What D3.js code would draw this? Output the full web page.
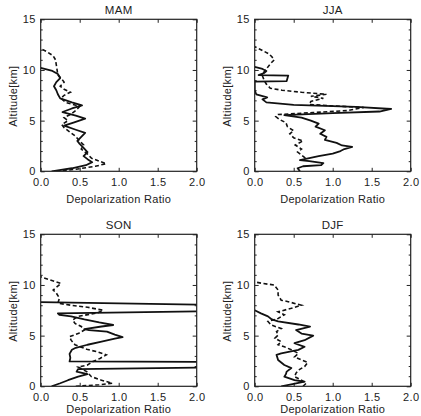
<!DOCTYPE html>
<html><head><meta charset="utf-8">
<script src="https://cdn.jsdelivr.net/npm/d3@7"></script>
<style>
body{margin:0;background:#fff;}
svg{display:block;}
text{font-family:"Liberation Sans",Arial,Helvetica,sans-serif;fill:#222;}
</style></head>
<body>
<svg id="chart" width="421" height="416"></svg>
<script>
// ---------------- DATA ----------------
const seasons = ["MAM", "JJA", "SON", "DJF"];
const xTickValues = [0, 0.5, 1.0, 1.5, 2.0];
const yTickValues = [0, 5, 10, 15];
const yMinorValues = [1,2,3,4,6,7,8,9,11,12,13,14];
const xLabel = "Depolarization Ratio";
const yLabel = "Altitude[km]";

// MAM
const mamSolidAlt   = [0,0.3,0.6,0.9,1.2,1.5,1.9,2.3,2.7,3.0,3.4,3.8,4.1,4.5,4.8,5.2,5.5,5.85,6.2,6.5,6.8,7.2,7.6,8.0,8.4,8.8,9.2,9.6,9.9,10.1,10.2];
const mamSolidRatio = [0.14,0.4,0.58,0.66,0.6,0.55,0.6,0.55,0.5,0.47,0.52,0.57,0.45,0.3,0.42,0.57,0.45,0.28,0.4,0.53,0.4,0.25,0.22,0.2,0.17,0.2,0.25,0.22,0.15,0.05,0];
const mamDashAlt    = [0,0.2,0.5,0.75,1.0,1.3,1.7,2.2,2.6,3.0,3.5,3.9,4.3,4.6,5.0,5.3,5.6,6.0,6.4,6.8,7.2,7.5,7.8,8.1,8.4,8.8,9.1,9.5,10.0,10.5,11.0,11.4,11.8,12.1];
const mamDashRatio  = [0.2,0.45,0.7,0.84,0.75,0.65,0.6,0.52,0.55,0.5,0.44,0.37,0.3,0.27,0.35,0.3,0.38,0.45,0.5,0.32,0.26,0.3,0.38,0.3,0.25,0.3,0.27,0.22,0.21,0.2,0.19,0.16,0.08,0];

// JJA
const jjaSolidAlt   = [0,0.3,0.5,0.6,0.8,1.0,1.1,1.3,1.5,1.75,2.0,2.2,2.4,2.55,2.8,3.1,3.4,3.7,4.05,4.4,4.7,5.0,5.3,5.55,5.75,5.9,6.15,6.35,6.55,6.8,7.1,7.3,7.6,8.0,8.85,8.9,9.45,9.5,9.7,9.9,10.1,10.3];
const jjaSolidRatio = [0.58,0.55,0.62,0.85,0.88,0.7,0.58,0.7,0.82,1.0,1.1,1.15,1.25,1.12,1.05,0.9,0.92,0.84,0.9,0.78,0.82,0.72,0.6,0.38,1.0,1.6,1.75,1.3,0.5,0.15,0.1,0.16,0.02,0,0,0.41,0.43,0.05,0.12,0.15,0.1,0];
const jjaDashAlt    = [1.3,1.6,1.9,2.2,2.6,3.0,3.3,3.7,4.0,4.4,4.8,5.1,5.4,5.6,5.8,6.0,6.3,6.45,6.6,6.9,7.2,7.4,7.6,7.8,8.0,8.2,8.6,9.0,9.4,9.8,10.2,10.6,11.0,11.3,11.6,12.0,12.3];
const jjaDashRatio  = [0.65,0.6,0.55,0.6,0.52,0.62,0.5,0.45,0.5,0.42,0.4,0.32,0.27,0.3,0.75,1.2,1.4,1.0,0.7,0.72,0.88,0.72,0.92,0.6,0.35,0.2,0.15,0.12,0.1,0.12,0.16,0.2,0.25,0.22,0.18,0.08,0];

// SON
const sonSolidAlt   = [0,0.3,0.6,0.95,1.2,1.45,1.7,1.85,2.4,2.45,2.8,3.2,3.6,3.8,4.1,4.4,4.7,4.85,5.1,5.4,5.55,5.65,5.9,6.05,6.3,6.6,6.9,7.05,7.2,7.4,8.05,8.3];
const sonSolidRatio = [0.14,0.25,0.35,0.48,0.6,0.46,0.48,2.1,2.1,0.37,0.38,0.37,0.4,0.45,0.6,0.78,0.95,1.05,0.95,0.85,0.62,0.56,0.78,0.93,0.75,0.56,0.39,0.24,0.22,2.1,2.1,0];
const sonDashAlt    = [0,0.15,0.3,0.6,0.95,1.45,1.9,2.1,2.45,2.75,3.1,3.4,3.65,4.1,4.55,4.9,5.2,5.55,5.9,6.2,6.55,6.9,7.25,7.5,7.8,8.0,8.2,8.7,9.2,9.5,10.15,10.3,10.5,10.8];
const sonDashRatio  = [0.45,0.75,0.92,0.78,0.65,0.59,0.48,0.6,0.67,0.76,0.84,0.73,0.59,0.44,0.39,0.37,0.48,0.56,0.52,0.44,0.41,0.48,0.73,0.8,0.6,0.39,0.22,0.24,0.2,0.16,0.26,0.2,0.12,0];

// DJF
const djfSolidAlt   = [0,0.25,0.45,0.6,0.95,1.2,1.45,1.8,2.1,2.6,3.1,3.25,3.6,3.9,4.25,4.55,5.0,5.2,5.55,5.9,6.1,6.4,6.6,6.9,7.2,7.5];
const djfSolidRatio = [0.34,0.5,0.64,0.51,0.38,0.4,0.41,0.47,0.38,0.3,0.28,0.34,0.56,0.64,0.51,0.64,0.75,0.6,0.53,0.71,0.56,0.3,0.22,0.17,0.08,0];
const djfDashAlt    = [0,0.3,0.6,0.95,1.3,1.6,1.95,2.35,2.6,2.9,3.25,3.6,3.9,4.1,4.4,4.75,5.05,5.4,5.7,6.05,6.4,6.7,7.05,7.35,7.7,8.0,8.35,8.5,9.0,9.5,10.0,10.15,10.3];
const djfDashRatio  = [0.62,0.66,0.6,0.51,0.53,0.56,0.64,0.68,0.6,0.51,0.56,0.47,0.38,0.3,0.34,0.26,0.3,0.28,0.34,0.21,0.17,0.3,0.38,0.3,0.47,0.6,0.43,0.34,0.3,0.3,0.25,0.1,0];

// -------------- LAYOUT --------------
const panels = [
  {title: seasons[0], left: 40.7,  right: 196.7, top: 19.3,  bottom: 171.3, xlab: 31.5,
   solid: [mamSolidAlt, mamSolidRatio], dash: [mamDashAlt, mamDashRatio]},
  {title: seasons[1], left: 254.7, right: 410.7, top: 19.3,  bottom: 171.3, xlab: 31.5,
   solid: [jjaSolidAlt, jjaSolidRatio], dash: [jjaDashAlt, jjaDashRatio]},
  {title: seasons[2], left: 40.7,  right: 196.7, top: 234.3, bottom: 386.3, xlab: 26.5,
   solid: [sonSolidAlt, sonSolidRatio], dash: [sonDashAlt, sonDashRatio]},
  {title: seasons[3], left: 254.7, right: 410.7, top: 234.3, bottom: 386.3, xlab: 26.5,
   solid: [djfSolidAlt, djfSolidRatio], dash: [djfDashAlt, djfDashRatio]}
];

const svg = d3.select("#chart");
svg.append("rect").attr("width",421).attr("height",416).attr("fill","#fff");
const FS = 11;
const ink = "#222";

panels.forEach((p, i) => {
  const x = d3.scaleLinear().domain([0, 2]).range([p.left, p.right]);
  const y = d3.scaleLinear().domain([0, 15]).range([p.bottom, p.top]);
  const g = svg.append("g");

  const clipId = "clip" + i;
  svg.append("clipPath").attr("id", clipId).append("rect")
    .attr("x", p.left).attr("y", p.top)
    .attr("width", p.right - p.left).attr("height", p.bottom - p.top);

  const styleAxis = sel => {
    sel.select(".domain").remove();
    sel.selectAll("line").attr("stroke", ink).attr("stroke-width", 1);
    sel.selectAll("text").attr("font-size", FS).attr("fill", ink)
      .attr("font-family", '"Liberation Sans",Arial,sans-serif').style("letter-spacing","0.3px");
  };
  g.append("g").attr("transform", `translate(0,${p.bottom})`)
    .call(d3.axisBottom(x).tickValues(xTickValues).tickSize(-3.5).tickPadding(7).tickFormat(d3.format(".1f")))
    .call(styleAxis);
  g.append("g").attr("transform", `translate(0,${p.top})`)
    .call(d3.axisTop(x).tickValues(xTickValues).tickSize(-3.5).tickFormat(""))
    .call(styleAxis);
  g.append("g").attr("transform", `translate(${p.left},0)`)
    .call(d3.axisLeft(y).tickValues(yTickValues).tickSize(-4).tickPadding(5).tickFormat(d3.format("d")))
    .call(styleAxis);
  g.append("g").attr("transform", `translate(${p.left},0)`)
    .call(d3.axisLeft(y).tickValues(yMinorValues).tickSize(-2).tickFormat(""))
    .call(styleAxis);
  g.append("g").attr("transform", `translate(${p.right},0)`)
    .call(d3.axisRight(y).tickValues(yTickValues).tickSize(-4).tickFormat(""))
    .call(styleAxis);
  g.append("g").attr("transform", `translate(${p.right},0)`)
    .call(d3.axisRight(y).tickValues(yMinorValues).tickSize(-2).tickFormat(""))
    .call(styleAxis);

  const line = d3.line().x(d => x(d[1])).y(d => y(d[0]));
  const solidPts = d3.zip(p.solid[0], p.solid[1]);
  const dashPts = d3.zip(p.dash[0], p.dash[1]);
  const lines = g.append("g").attr("clip-path", `url(#${clipId})`);
  lines.append("path").attr("d", line(dashPts)).attr("fill","none")
    .attr("stroke","#111").attr("stroke-width",1.6).attr("stroke-dasharray","4,2.5");
  lines.append("path").attr("d", line(solidPts)).attr("fill","none")
    .attr("stroke","#111").attr("stroke-width",1.8).attr("stroke-linejoin","round");

  g.append("rect").attr("x", p.left).attr("y", p.top)
    .attr("width", p.right - p.left).attr("height", p.bottom - p.top)
    .attr("fill","none").attr("stroke", ink).attr("stroke-width", 1.2);

  g.append("text").attr("x", (p.left + p.right) / 2).attr("y", p.top - 5.5)
    .attr("text-anchor","middle").attr("font-size", 11.5).style("letter-spacing","0.3px").text(p.title);
  g.append("text").attr("x", (p.left + p.right) / 2).attr("y", p.bottom + p.xlab)
    .attr("text-anchor","middle").attr("font-size", FS).style("letter-spacing","0.3px").text(xLabel);
  const cy = (p.top + p.bottom) / 2 + 1;
  const cx = p.left - 24;
  g.append("text").attr("transform", `translate(${cx},${cy}) rotate(-90)`)
    .attr("text-anchor","middle").attr("font-size", FS).style("letter-spacing","0.3px").text(yLabel);
});
</script>
</body></html>
